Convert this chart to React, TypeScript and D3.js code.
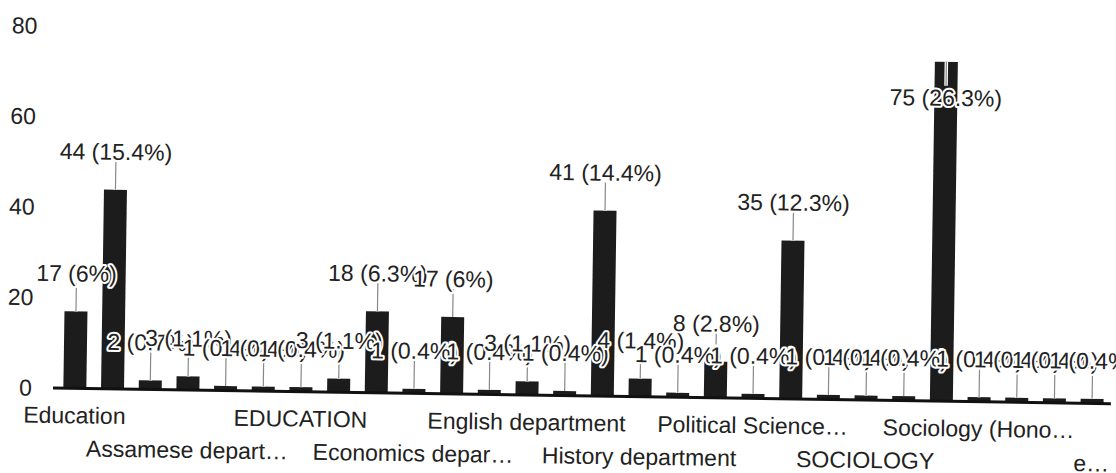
import { useRef, useEffect } from 'react';
import * as d3 from 'd3';

// response counts per department answer (total 285)
const values = [17, 44, 2, 3, 1, 1, 1, 3, 18, 1, 17, 1, 3, 1, 41, 4, 1, 8, 1, 35, 1, 1, 1, 75, 1, 1, 1, 1];

// only every third category name is visible on the axis
const xLabels = [
	'Education', '', '', 'Assamese depart…', '', '', 'EDUCATION', '', '',
	'Economics depar…', '', '', 'English department', '', '', 'History department', '', '',
	'Political Science…', '', '', 'SOCIOLOGY', '', '', 'Sociology (Hono…', '', '', 'e…',
];

const yTicks = [0, 20, 40, 60, 80];

const App = () => {
	const svgRef = useRef<SVGSVGElement>(null);
	const width = 1116;
	const height = 473;

	useEffect(() => {
		d3.select(svgRef.current).selectAll('*').remove();

		const total = d3.sum(values);
		const font = '"Liberation Sans", Arial, sans-serif';
		const ink = '#222';

		// scanned page is slightly skewed
		const svg = d3
			.select(svgRef.current)
			.append('g')
			.attr('transform', 'rotate(0.85 55 388)');

		const x = d3
			.scaleBand<number>()
			.domain(d3.range(values.length))
			.range([56, 1111])
			.paddingInner(0.39)
			.paddingOuter(0.195);

		const y = d3.scaleLinear().domain([0, 80]).range([388, 26]);

		// y tick labels
		svg
			.selectAll('text.ytick')
			.data(yTicks)
			.enter()
			.append('text')
			.attr('class', 'ytick')
			.attr('x', 32)
			.attr('y', (d) => y(d))
			.attr('dy', '0.35em')
			.attr('text-anchor', 'end')
			.attr('font-family', font)
			.attr('font-size', 23)
			.attr('fill', ink)
			.text((d) => d);

		// bars
		svg
			.selectAll('rect')
			.data(values)
			.enter()
			.append('rect')
			.attr('x', (d, i) => x(i)!)
			.attr('y', (d) => y(d))
			.attr('width', x.bandwidth())
			.attr('height', (d) => y(0) - y(d))
			.attr('fill', '#1c1c1c');

		// baseline
		svg
			.append('line')
			.attr('x1', 53)
			.attr('x2', 1111)
			.attr('y1', y(0))
			.attr('y2', y(0))
			.attr('stroke', '#111')
			.attr('stroke-width', 3);

		// label placement: above the bar, or inside it when it would leave the plot
		const labelPos = values.map((v) => {
			const above = y(v) - 38;
			if (above - 12 < y.range()[1]) {
				return { cy: y(v) + 36, l1: y(v), l2: y(v) + 36 - 12 };
			}
			return { cy: above, l1: above + 10, l2: y(v) };
		});

		const leaders = svg.append('g');
		values.forEach((v, i) => {
			const cx = x(i)! + x.bandwidth() / 2;
			const p = labelPos[i];
			leaders
				.append('line')
				.attr('x1', cx)
				.attr('x2', cx)
				.attr('y1', p.l1)
				.attr('y2', p.l2)
				.attr('stroke', '#fff')
				.attr('stroke-width', 3.5);
			leaders
				.append('line')
				.attr('x1', cx)
				.attr('x2', cx)
				.attr('y1', p.l1)
				.attr('y2', p.l2)
				.attr('stroke', '#888')
				.attr('stroke-width', 1.2);
		});

		// value labels with white halo
		svg
			.selectAll('text.val')
			.data(values)
			.enter()
			.append('text')
			.attr('class', 'val')
			.attr('x', (d, i) => x(i)! + x.bandwidth() / 2)
			.attr('y', (d, i) => labelPos[i].cy)
			.attr('dy', '0.35em')
			.attr('text-anchor', 'middle')
			.attr('font-family', font)
			.attr('font-size', 23)
			.attr('fill', ink)
			.attr('stroke', '#fff')
			.attr('stroke-width', 4)
			.attr('stroke-linejoin', 'round')
			.attr('paint-order', 'stroke')
			.text((d) => `${d} (${Number(((d / total) * 100).toFixed(1))}%)`);

		// category labels, alternating in two rows
		const shown = xLabels.map((t, i) => ({ t, i })).filter((d) => d.t !== '');
		svg
			.selectAll('text.xlab')
			.data(shown)
			.enter()
			.append('text')
			.attr('class', 'xlab')
			.attr('x', (d) => x(d.i)! + x.bandwidth() / 2)
			.attr('y', (d, k) => (k % 2 === 0 ? 423 : 456))
			.attr('text-anchor', 'middle')
			.attr('font-family', font)
			.attr('font-size', 23)
			.attr('fill', ink)
			.text((d) => d.t);
	}, []);

	return (
		<div style={{ position: 'absolute', left: 0, top: 0, background: '#fff' }}>
			<svg ref={svgRef} width={width} height={height} />
		</div>
	);
};

export default App;
